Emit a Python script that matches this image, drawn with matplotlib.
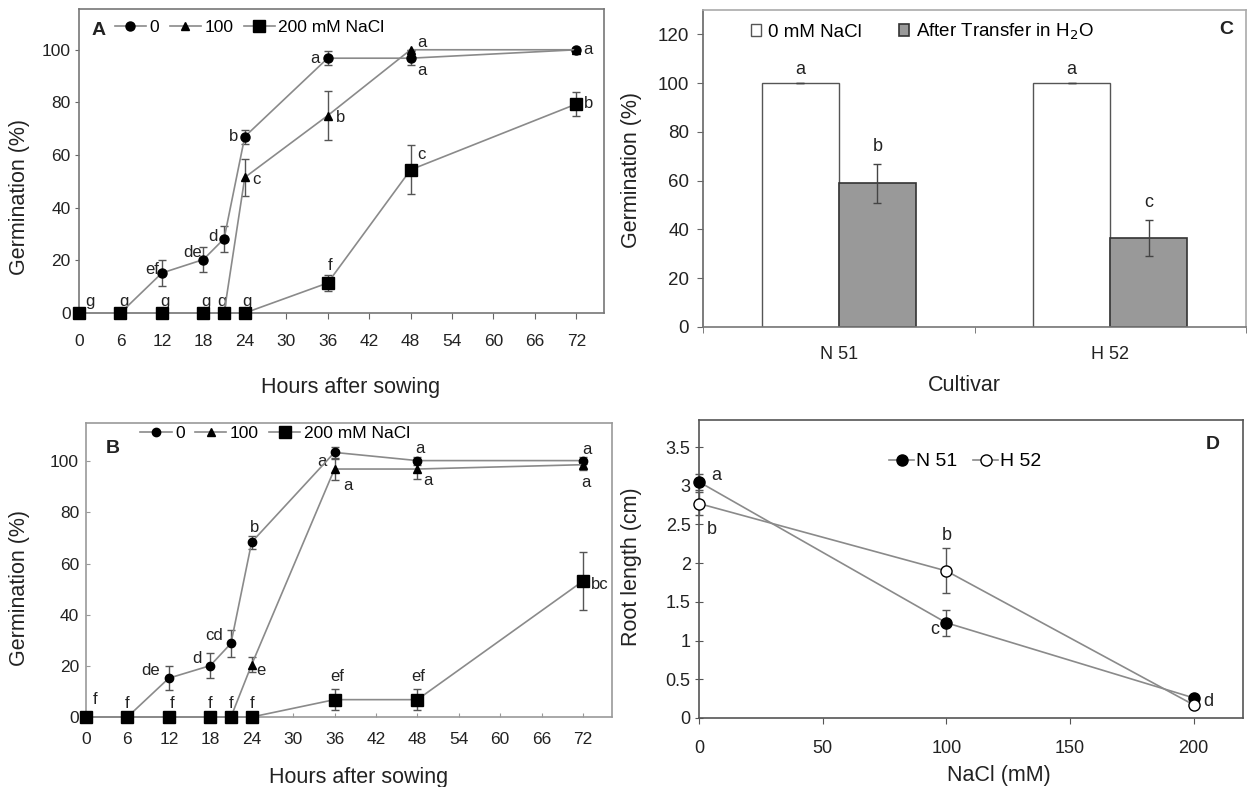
import numpy as np
import matplotlib.pyplot as plt
from matplotlib.lines import Line2D

plt.rcParams['font.family'] = ['Liberation Sans', 'DejaVu Sans']

# Germination time course (hours after sowing)
hours = [0, 6, 12, 18, 21, 24, 36, 48, 72]

# Panel A
a_0 = [0, 0, 15.2, 20.3, 28.2, 67, 96.8, 96.8, 100]
a_0_err = [0, 0, 4.9, 4.6, 5, 2.7, 2.7, 2.7, 0]
a_100 = [0, 0, 0, 0, 0, 51.5, 75, 100, 100]
a_100_err = [0, 0, 0, 0, 0, 7, 9.4, 0, 0]
a_200 = [0, 0, 0, 0, 0, 0, 11.4, 54.4, 79.4]
a_200_err = [0, 0, 0, 0, 0, 0, 3, 9.3, 4.4]
a_0_let = ['', '', 'ef', 'de', 'd', 'b', 'a', 'a', 'a']
a_100_let = ['', '', '', '', '', 'c', 'b', 'a', '']
a_200_let = ['g', 'g', 'g', 'g', 'g', 'g', 'f', 'c', 'b']

# Panel B
b_0 = [0, 0, 15.2, 20.1, 28.8, 68.4, 103.5, 100.3, 100.3]
b_0_err = [0, 0, 4.7, 4.9, 5.3, 2.5, 2.3, 1.6, 1.3]
b_100 = [0, 0, 0, 0, 0, 20.5, 97, 97, 98.7]
b_100_err = [0, 0, 0, 0, 0, 2.9, 4.1, 4, 1.9]
b_200 = [0, 0, 0, 0, 0, 0, 6.8, 6.8, 53.2]
b_200_err = [0, 0, 0, 0, 0, 0, 4.2, 4.2, 11.5]
b_0_let = ['', '', 'de', 'd', 'cd', 'b', 'a', 'a', 'a']
b_100_let = ['', '', '', '', '', 'e', 'a', 'a', 'a']
b_200_let = ['f', 'f', 'f', 'f', 'f', 'f', 'ef', 'ef', 'bc']

# Panel C
cultivars = ['N 51', 'H 52']
c_ctrl = [100, 100]
c_ctrl_err = [0, 0]
c_transfer = [59, 36.6]
c_transfer_err = [8, 7.3]
c_ctrl_let = ['a', 'a']
c_transfer_let = ['b', 'c']

# Panel D
nacl = [0, 100, 200]
d_n51 = [3.05, 1.23, 0.26]
d_n51_err = [0.1, 0.17, 0.03]
d_h52 = [2.77, 1.9, 0.17]
d_h52_err = [0.15, 0.29, 0.03]
d_n51_let = ['a', 'c', '']
d_h52_let = ['b', 'b', 'd']

TXT = '#222222'
LINE = '#8a8a8a'


def letters(ax, x, y, labels, offsets, size=12):
    for xi, yi, lab, (dx, dy) in zip(x, y, labels, offsets):
        if lab:
            ax.annotate(lab, (xi, yi), xytext=(dx, dy), textcoords='offset pixels',
                        ha='center', va='center', fontsize=size, color=TXT)


def frame(ax, color='#777777', lw=1.2):
    for s in ax.spines.values():
        s.set_color(color)
        s.set_linewidth(lw)


def series(ax, x, y, err, marker, ms, mfc='black'):
    eb = ax.errorbar(x, y, yerr=err, color=LINE, lw=1.2, marker=marker, ms=ms,
                     mfc=mfc, mec='black', ecolor='#555555', elinewidth=1,
                     capsize=3, capthick=1, zorder=3)
    for art in eb.get_children():
        art.set_clip_on(False)
    return Line2D([], [], color=LINE, lw=1.2, marker=marker, ms=ms, mfc=mfc, mec='black')


fig = plt.figure(figsize=(12.48, 7.87), dpi=100)

# ---------------- Panel A ----------------
axA = fig.add_axes([0.0633, 0.6023, 0.4207, 0.3863])
h0 = series(axA, hours, a_0, a_0_err, 'o', 6.5)
h1 = series(axA, hours, a_100, a_100_err, '^', 6)
h2 = series(axA, hours, a_200, a_200_err, 's', 8.5)
axA.set_xlim(0, 76)
axA.set_ylim(0, 115.5)
axA.set_xticks(np.arange(0, 73, 6))
axA.set_yticks(np.arange(0, 101, 20))
axA.tick_params(axis='x', direction='out', length=4, pad=11, labelsize=12.5,
                colors='#666666', labelcolor=TXT)
axA.tick_params(axis='y', direction='out', length=3, pad=3, labelsize=12.5,
                colors='#666666', labelcolor=TXT)
frame(axA)
axA.set_xlabel('Hours after sowing', fontsize=15.5, color=TXT)
axA.set_ylabel('Germination (%)', fontsize=15.5, color=TXT)
axA.xaxis.set_label_coords(0.518, -0.21)
axA.yaxis.set_label_coords(-0.093, 0.38)
letters(axA, hours, a_0, a_0_let,
        [(0, 0), (0, 0), (-10, 3), (-11, 7), (-11, 2), (-11, 0), (-13, 0), (11, -12), (12, 0)])
letters(axA, hours, a_100, a_100_let,
        [(0, 0)] * 5 + [(12, -2), (13, -2), (11, 7), (0, 0)])
letters(axA, hours, a_200, a_200_let,
        [(11, 11), (3, 11), (3, 11), (3, 11), (-2, 11), (2, 11), (2, 17), (11, 15), (12, 0)])
axA.text(0.023, 0.93, 'A', transform=axA.transAxes, fontsize=14, fontweight='bold',
         color=TXT, ha='left', va='center')
axA.legend([h0, h1, h2], ['0', '100', '200 mM NaCl'], ncol=3, frameon=False,
           loc='center left', bbox_to_anchor=(0.055, 0.94), fontsize=12.5,
           handlelength=1.8, handletextpad=0.2, columnspacing=0.6, borderaxespad=0)

# ---------------- Panel B ----------------
axB = fig.add_axes([0.0689, 0.0889, 0.4215, 0.3736])
g0 = series(axB, hours, b_0, b_0_err, 'o', 6)
g1 = series(axB, hours, b_100, b_100_err, '^', 5.5)
g2 = series(axB, hours, b_200, b_200_err, 's', 8)
axB.set_xlim(0, 76.2)
axB.set_ylim(0, 115)
axB.set_xticks(np.arange(0, 73, 6))
axB.set_yticks(np.arange(0, 101, 20))
axB.tick_params(axis='x', direction='in', length=3, pad=11, labelsize=12.5,
                colors='#999999', labelcolor=TXT)
axB.tick_params(axis='y', direction='in', length=3, pad=5, labelsize=12.5,
                colors='#999999', labelcolor=TXT)
frame(axB, '#999999')
axB.set_xlabel('Hours after sowing', fontsize=15.5, color=TXT)
axB.set_ylabel('Germination (%)', fontsize=15.5, color=TXT)
axB.xaxis.set_label_coords(0.519, -0.17)
axB.yaxis.set_label_coords(-0.106, 0.44)
letters(axB, hours, b_0, b_0_let,
        [(0, 0), (0, 0), (-18, 8), (-13, 7), (-17, 8), (3, 15), (-13, -9), (3, 12), (4, 11)])
letters(axB, hours, b_100, b_100_let,
        [(0, 0)] * 5 + [(9, -6), (13, -16), (11, -11), (3, -18)])
letters(axB, hours, b_200, b_200_let,
        [(9, 18), (0, 14), (3, 14), (0, 14), (0, 14), (0, 14), (3, 23), (1, 23), (17, -3)])
axB.text(0.038, 0.915, 'B', transform=axB.transAxes, fontsize=14, fontweight='bold',
         color=TXT, ha='left', va='center')
axB.legend([g0, g1, g2], ['0', '100', '200 mM NaCl'], ncol=3, frameon=False,
           loc='center left', bbox_to_anchor=(0.09, 0.965), fontsize=12.5,
           handlelength=1.8, handletextpad=0.2, columnspacing=0.6, borderaxespad=0)

# ---------------- Panel C ----------------
axC = fig.add_axes([0.5633, 0.5845, 0.4351, 0.4028])
xc = np.arange(len(cultivars))
w = 0.284
b1 = axC.bar(xc - w / 2, c_ctrl, w, color='white', edgecolor='#555555', lw=1,
             yerr=c_ctrl_err, capsize=3, error_kw=dict(ecolor='#444444', elinewidth=1))
b2 = axC.bar(xc + w / 2, c_transfer, w, color='#999999', edgecolor='#333333', lw=1.2,
             yerr=c_transfer_err, capsize=3, error_kw=dict(ecolor='#444444', elinewidth=1))
for xi, yi, lab in zip(xc - w / 2, c_ctrl, c_ctrl_let):
    axC.annotate(lab, (xi, yi), xytext=(0, 14), textcoords='offset pixels',
                 ha='center', va='center', fontsize=13, color=TXT)
for xi, yi, e, lab in zip(xc + w / 2, c_transfer, c_transfer_err, c_transfer_let):
    axC.annotate(lab, (xi, yi + e), xytext=(0, 17), textcoords='offset pixels',
                 ha='center', va='center', fontsize=13, color=TXT)
axC.set_xlim(-0.5, 1.5)
axC.set_ylim(0, 130)
axC.set_yticks(np.arange(0, 121, 20))
axC.set_xticks(xc)
axC.set_xticklabels(cultivars)
axC.set_xticks([-0.5, 0.5, 1.5], minor=True)
axC.tick_params(axis='x', which='major', length=0, pad=14, labelsize=13, labelcolor=TXT)
axC.tick_params(axis='x', which='minor', direction='out', length=4, colors='#666666')
axC.tick_params(axis='y', direction='out', length=4, pad=6, labelsize=13.5,
                colors='#666666', labelcolor=TXT)
frame(axC, '#aaaaaa')
axC.spines['left'].set_color('#666666')
axC.spines['bottom'].set_color('#777777')
axC.set_xlabel('Cultivar', fontsize=15.5, color=TXT)
axC.set_ylabel('Germination (%)', fontsize=15.5, color=TXT)
axC.xaxis.set_label_coords(0.482, -0.15)
axC.yaxis.set_label_coords(-0.112, 0.495)
axC.text(0.963, 0.937, 'C', transform=axC.transAxes, fontsize=14, fontweight='bold',
         color=TXT, ha='center', va='center')
axC.legend([b1, b2], ['0 mM NaCl', 'After Transfer in H$_2$O'], ncol=2, frameon=False,
           loc='center left', bbox_to_anchor=(0.075, 0.93), fontsize=13.5,
           handlelength=0.5, handleheight=0.6, handletextpad=0.4, columnspacing=2.0,
           borderaxespad=0)

# ---------------- Panel D ----------------
axD = fig.add_axes([0.5601, 0.0877, 0.4359, 0.3787])
k1 = series(axD, nacl, d_n51, d_n51_err, 'o', 8)
k2 = series(axD, nacl, d_h52, d_h52_err, 'o', 8, mfc='white')
axD.set_xlim(0, 220)
axD.set_ylim(0, 3.85)
axD.set_xticks([0, 50, 100, 150, 200])
axD.set_yticks(np.arange(0, 3.6, 0.5))
axD.set_yticklabels(['0', '0.5', '1', '1.5', '2', '2.5', '3', '3.5'])
axD.tick_params(axis='x', direction='out', length=4, pad=12, labelsize=13,
                colors='#555555', labelcolor=TXT)
axD.tick_params(axis='y', direction='inout', length=6, pad=3, labelsize=13,
                colors='#555555', labelcolor=TXT)
frame(axD, '#555555')
axD.set_xlabel('NaCl (mM)', fontsize=15.5, color=TXT)
axD.set_ylabel('Root length (cm)', fontsize=15.5, color=TXT)
axD.xaxis.set_label_coords(0.551, -0.158)
axD.yaxis.set_label_coords(-0.105, 0.507)
letters(axD, nacl, d_n51, d_n51_let, [(17, 6), (-12, -7), (0, 0)], size=13)
letters(axD, nacl, d_h52, d_h52_let, [(13, -26), (1, 35), (15, 3)], size=13)
axD.text(0.945, 0.916, 'D', transform=axD.transAxes, fontsize=14, fontweight='bold',
         color=TXT, ha='center', va='center')
axD.legend([k1, k2], ['N 51', 'H 52'], ncol=2, frameon=False,
           loc='center left', bbox_to_anchor=(0.335, 0.86), fontsize=14,
           handlelength=1.3, handletextpad=0.1, columnspacing=0.8, borderaxespad=0)

fig.savefig('out.png', dpi=100)
